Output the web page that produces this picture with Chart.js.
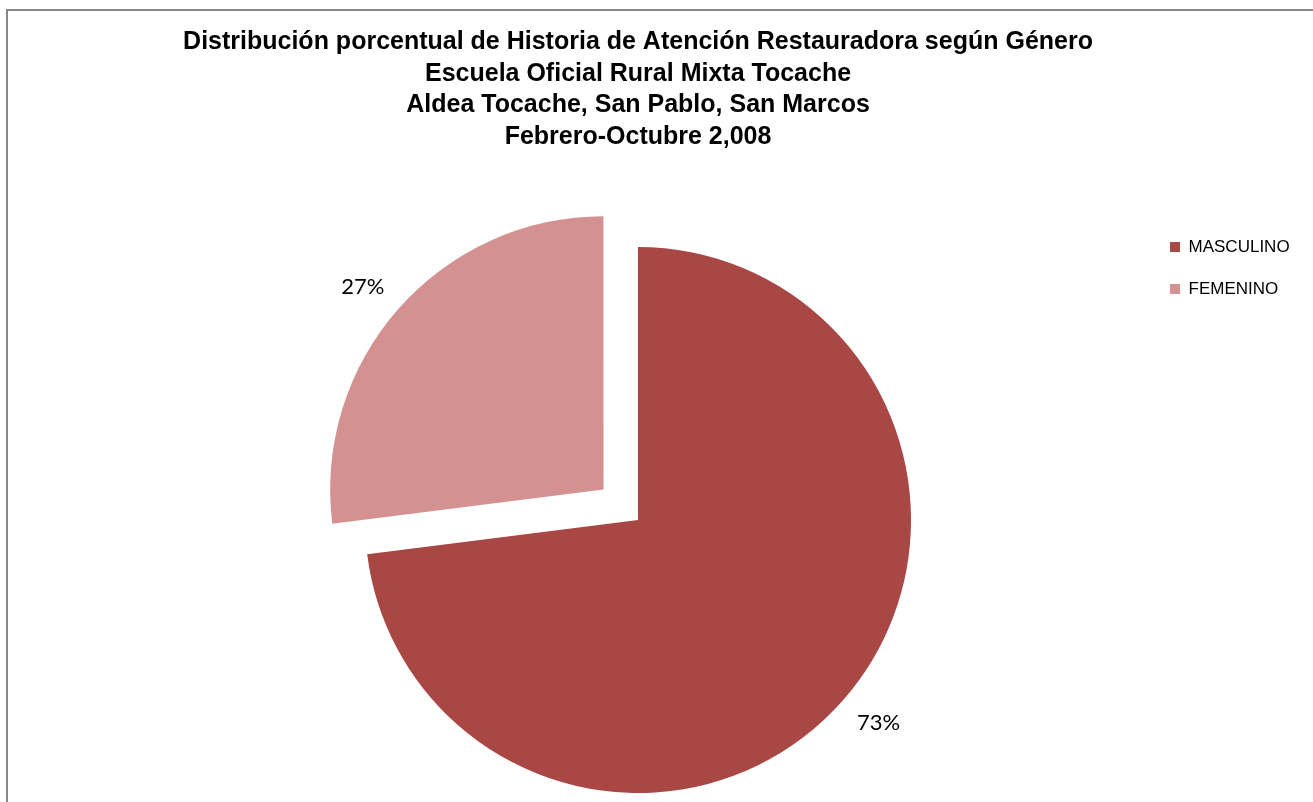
<!DOCTYPE html>
<html lang="es">
    <head>
        <meta charset="UTF-8" />
        <title>Historia de Atención Restauradora según Género</title>
        <script src="https://cdn.jsdelivr.net/npm/chart.js@4"></script>
    </head>
    <body>
        <style>
            * {
                padding: 0;
                margin: 0;
                box-sizing: border-box;
            }

            body {
                width: 1313px;
                height: 802px;
                overflow: hidden;
                background-color: #fff;
            }

            /* the original chart is cropped: only its left and top border show */
            .chart-frame {
                position: absolute;
                left: 6px;
                top: 9px;
                width: 1324px;
                height: 834px;
                border: 2px solid #888;
                background-color: #fff;
            }

            #genderChart {
                width: 100%;
                height: 100%;
            }
        </style>

        <div class="chart-frame">
            <canvas id="genderChart"></canvas>
        </div>

        <script>
            const genders = ["MASCULINO", "FEMENINO"];
            const shares = [73, 27];
            const titleLines = [
                "Distribución porcentual de Historia de Atención Restauradora según Género",
                "Escuela Oficial Rural Mixta Tocache",
                "Aldea Tocache, San Pablo, San Marcos",
                "Febrero-Octubre 2,008",
            ];

            // percentage labels just outside each slice
            const sliceLabels = {
                id: "sliceLabels",
                afterDatasetsDraw(chart) {
                    const ctx = chart.ctx;
                    const meta = chart.getDatasetMeta(0);
                    ctx.save();
                    ctx.font = "22px Lato, 'Open Sans', sans-serif";
                    ctx.fillStyle = "#000";
                    ctx.textAlign = "center";
                    ctx.textBaseline = "middle";
                    meta.data.forEach(function (arc, i) {
                        const p = arc.getProps(
                            ["x", "y", "startAngle", "endAngle", "outerRadius"],
                            true
                        );
                        const mid = (p.startAngle + p.endAngle) / 2;
                        const dx = Math.cos(mid);
                        const dy = Math.sin(mid);
                        const shift = (arc.options.offset || 0) / 4;
                        const text = shares[i] + "%";
                        const w = ctx.measureText(text).width;
                        const d = p.outerRadius + shift + 19;
                        ctx.fillText(
                            text,
                            p.x + dx * d + Math.sign(dx) * w / 2,
                            p.y + dy * d + Math.sign(dy) * 10
                        );
                    });
                    ctx.restore();
                },
            };

            const ctx = document.getElementById("genderChart").getContext("2d");
            const genderChart = new Chart(ctx, {
                type: "pie",
                data: {
                    labels: genders,
                    datasets: [
                        {
                            data: shares,
                            backgroundColor: ["#A94745", "#D39291"],
                            borderWidth: 0,
                            offset: [0, 184],
                            hoverOffset: 0,
                        },
                    ],
                },
                options: {
                    responsive: true,
                    maintainAspectRatio: false,
                    animation: false,
                    radius: 273,
                    layout: {
                        padding: { left: 123, right: 28.4, top: 0, bottom: 14.5 },
                    },
                    plugins: {
                        title: {
                            display: true,
                            fullSize: false,
                            text: titleLines,
                            color: "#000",
                            font: {
                                family: "'Liberation Sans', Arial, sans-serif",
                                size: 25,
                                weight: "bold",
                                lineHeight: 1.26,
                            },
                            padding: { top: 15.5, bottom: 61 },
                        },
                        legend: {
                            display: true,
                            position: "right",
                            align: "start",
                            fullSize: false,
                            labels: {
                                boxWidth: 10,
                                boxHeight: 10,
                                padding: 25,
                                color: "#000",
                                font: {
                                    family: "'Liberation Sans', Arial, sans-serif",
                                    size: 17,
                                },
                            },
                        },
                        tooltip: { enabled: false },
                    },
                },
                plugins: [sliceLabels],
            });
        </script>
    </body>
</html>
